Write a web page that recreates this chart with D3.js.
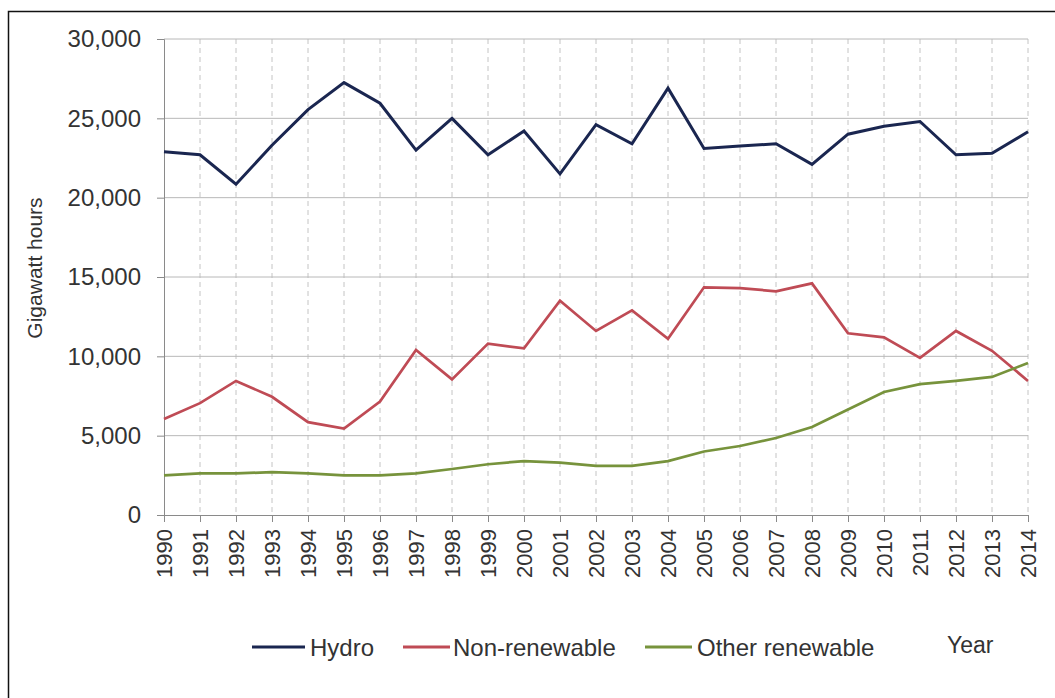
<!DOCTYPE html>
<html>
<head>
<meta charset="utf-8">
<script src="https://cdn.jsdelivr.net/npm/d3@7"></script>
<style>
  body { margin: 0; background: #fff; }
  svg { display: block; font-family: "Liberation Sans", Arial, sans-serif; }
</style>
</head>
<body>
<svg id="chart" width="1055" height="698"></svg>
<script>
const years = [1990,1991,1992,1993,1994,1995,1996,1997,1998,1999,2000,2001,2002,2003,2004,2005,2006,2007,2008,2009,2010,2011,2012,2013,2014];
const hydro = [22900,22700,20850,23300,25550,27250,25950,23000,25000,22700,24200,21500,24600,23400,26900,23100,23250,23400,22100,24000,24500,24800,22700,22800,24150];
const nonRenewable = [6050,7050,8450,7450,5850,5450,7150,10400,8550,10800,10500,13500,11600,12900,11100,14350,14300,14100,14600,11450,11200,9900,11600,10350,8450];
const otherRenewable = [2500,2620,2620,2700,2620,2500,2500,2620,2900,3200,3400,3300,3100,3100,3400,4000,4350,4850,5550,6650,7750,8250,8450,8700,9580];
const yTicks = [0,5000,10000,15000,20000,25000,30000];
const seriesNames = ["Hydro","Non-renewable","Other renewable"];
const seriesColors = ["#1a2650","#bf4b55","#77933c"];

const svg = d3.select("#chart");
const textColor = "#333";

// outer border
svg.append("rect").attr("x",8.5).attr("y",11.5).attr("width",1200).attr("height",900)
  .attr("fill","none").attr("stroke","#111").attr("stroke-width",1.5);

const pLeft = 164, pRight = 1028, pTop = 39, pBottom = 515;
const x = d3.scalePoint().domain(years).range([pLeft, pRight]);
const y = d3.scaleLinear().domain([0,30000]).range([pBottom, pTop]);

// vertical dashed gridlines
svg.append("g").selectAll("line").data(years.slice(1)).join("line")
  .attr("x1", d => x(d)).attr("x2", d => x(d))
  .attr("y1", pTop).attr("y2", pBottom)
  .attr("stroke","#c4c4c4").attr("stroke-width",1).attr("stroke-dasharray","5,4");

// horizontal gridlines
svg.append("g").selectAll("line").data(yTicks.slice(1)).join("line")
  .attr("x1", pLeft).attr("x2", pRight)
  .attr("y1", d => y(d)).attr("y2", d => y(d))
  .attr("stroke","#b8b8b8").attr("stroke-width",1);

// y axis
const yAxis = svg.append("g").attr("transform",`translate(${pLeft},0)`)
  .call(d3.axisLeft(y).tickValues(yTicks).tickSize(7).tickPadding(16).tickFormat(d3.format(",")));
yAxis.select(".domain").attr("stroke","#8a8a8a");
yAxis.selectAll(".tick line").attr("stroke","#8a8a8a");
yAxis.selectAll("text").attr("fill",textColor).style("font-size","24px");

// x axis
const xAxis = svg.append("g").attr("transform",`translate(0,${pBottom})`)
  .call(d3.axisBottom(x).tickSize(7).tickPadding(8));
xAxis.select(".domain").attr("stroke","#8a8a8a");
xAxis.selectAll(".tick line").attr("stroke","#8a8a8a");
xAxis.selectAll("text").attr("fill",textColor).style("font-size","22px")
  .attr("transform","rotate(-90)")
  .attr("text-anchor","end")
  .attr("x",-14).attr("y",0).attr("dy","0.36em");

// y axis title
svg.append("text").attr("transform","translate(42,268) rotate(-90)")
  .attr("text-anchor","middle").attr("fill",textColor).style("font-size","21px")
  .text("Gigawatt hours");

// lines
const line = d3.line().x((d,i) => x(years[i])).y(d => y(d));
const allSeries = [hydro, nonRenewable, otherRenewable];
svg.append("g").selectAll("path").data(allSeries).join("path")
  .attr("d", d => line(d))
  .attr("fill","none")
  .attr("stroke",(d,i) => seriesColors[i])
  .attr("stroke-width",(d,i) => i === 0 ? 3 : 2.7)
  .attr("stroke-linejoin","miter");

// legend
const legendLineX = [[252,305],[403,450],[645,692]];
const legendTextX = [310, 453, 697];
const legend = svg.append("g");
seriesNames.forEach((name,i) => {
  legend.append("line").attr("x1",legendLineX[i][0]).attr("x2",legendLineX[i][1])
    .attr("y1",647).attr("y2",647).attr("stroke",seriesColors[i]).attr("stroke-width",3);
  legend.append("text").attr("x",legendTextX[i]).attr("y",656)
    .attr("fill",textColor).style("font-size","24px").text(name);
});

// x axis title
svg.append("text").attr("x",947).attr("y",653).attr("fill",textColor)
  .style("font-size","23px").text("Year");
</script>
</body>
</html>
